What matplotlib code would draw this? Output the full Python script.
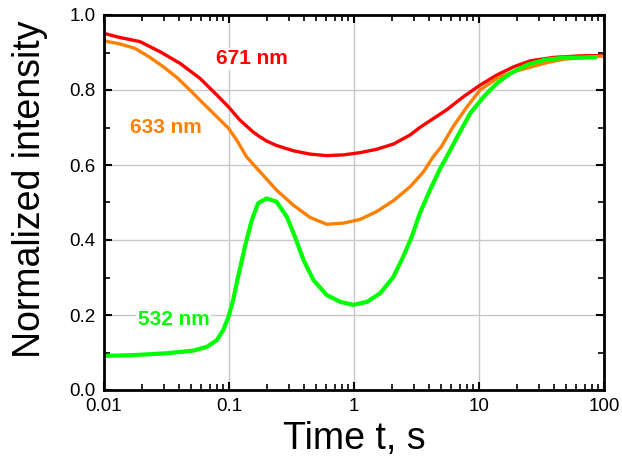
import numpy as np
import matplotlib.pyplot as plt
from matplotlib.ticker import LogLocator, FixedLocator, MultipleLocator, NullFormatter

plt.rcParams['font.family'] = ['Liberation Sans', 'DejaVu Sans']

# 671 nm (red)
t_671 = [0.01, 0.0134, 0.0194, 0.0281, 0.0406, 0.0586, 0.0798, 0.099, 0.122, 0.156,
         0.177, 0.2, 0.24, 0.327, 0.446, 0.606, 0.823, 1.12, 1.52, 2.07, 2.81, 3.36, 5.5,
         7.5, 10.2, 13.9, 19, 25.8, 39.8, 64.5, 100]
i_671 = [0.951, 0.940, 0.929, 0.902, 0.871, 0.831, 0.787, 0.755, 0.720, 0.688,
         0.675, 0.664, 0.652, 0.638, 0.629, 0.625, 0.627, 0.633, 0.642, 0.656, 0.680, 0.700, 0.747,
         0.782, 0.813, 0.840, 0.862, 0.878, 0.887, 0.891, 0.892]

# 633 nm (orange)
t_633 = [0.01, 0.0134, 0.0177, 0.0233, 0.0298, 0.0381, 0.0487, 0.0623, 0.0798, 0.099,
         0.115, 0.138, 0.177, 0.24, 0.327, 0.446, 0.606, 0.823, 1.12, 1.52, 2.07, 2.81,
         3.6, 4.3, 5.0, 6.2, 8.0, 10.2, 13.9, 19, 25.8, 35, 47.3, 72.5, 100]
i_633 = [0.931, 0.923, 0.911, 0.887, 0.862, 0.834, 0.800, 0.764, 0.729, 0.698,
         0.667, 0.622, 0.582, 0.533, 0.493, 0.460, 0.442, 0.445, 0.455, 0.476, 0.505, 0.542,
         0.582, 0.622, 0.649, 0.702, 0.755, 0.800, 0.831, 0.849, 0.861, 0.873, 0.882, 0.887, 0.891]

# 532 nm (green)
t_532 = [0.01, 0.0172, 0.0317, 0.0518, 0.0664, 0.08, 0.09, 0.099, 0.108, 0.115, 0.134,
         0.152, 0.171, 0.2, 0.24, 0.29, 0.337, 0.394, 0.474, 0.606, 0.776, 0.99, 1.27,
         1.62, 2.07, 2.47, 2.9, 3.36, 4.05, 4.9, 5.9, 6.7, 8.5, 10.9, 13.9, 17.8, 24.2,
         33, 47.3, 84.5]
i_532 = [0.091, 0.093, 0.098, 0.105, 0.115, 0.133, 0.160, 0.195, 0.240, 0.284, 0.382,
         0.453, 0.498, 0.511, 0.502, 0.462, 0.409, 0.347, 0.293, 0.253, 0.235, 0.227, 0.235,
         0.258, 0.302, 0.355, 0.409, 0.471, 0.533, 0.591, 0.640, 0.675, 0.738, 0.782, 0.818,
         0.844, 0.867, 0.880, 0.886, 0.887]

fig = plt.figure(figsize=(6.22, 4.66), dpi=100)
ax = fig.add_axes([104 / 622, 1 - 390 / 466, 500 / 622, 375 / 466])

ax.plot(t_671, i_671, color='#FF0000', lw=2.4)
ax.plot(t_633, i_633, color='#FF8000', lw=2.4)
ax.plot(t_532, i_532, color='#00FF00', lw=3.0)

ax.set_xscale('log')
ax.set_xlim(0.01, 100)
ax.set_ylim(0, 1.0)
ax.xaxis.set_major_locator(FixedLocator([0.01, 0.1, 1, 10, 100]))
ax.set_xticklabels(['0.01', '0.1', '1', '10', '100'])
ax.xaxis.set_minor_locator(LogLocator(base=10, subs=np.arange(2, 10)))
ax.xaxis.set_minor_formatter(NullFormatter())
ax.yaxis.set_major_locator(MultipleLocator(0.2))
ax.yaxis.set_minor_locator(MultipleLocator(0.1))
ax.yaxis.set_major_formatter(plt.FuncFormatter(lambda v, p: '%.1f' % v))

ax.grid(True, which='major', color='#C8C8C8', lw=1)
ax.tick_params(which='both', direction='in', top=True, right=True, labelsize=13.5, pad=6)
ax.tick_params(which='major', length=6, width=1.5)
ax.tick_params(which='minor', length=4, width=1.2)
for s in ax.spines.values():
    s.set_linewidth(2)

ax.set_xlabel('Time t, s', fontsize=27, labelpad=4)
ax.set_ylabel('Normalized intensity', fontsize=27)
ax.yaxis.set_label_coords(-0.112, 0.536)

box = dict(facecolor='white', edgecolor='none', pad=1)
ax.text(0.153, 0.883, '671 nm', color='#FF0000', fontsize=15, fontweight='bold',
        ha='center', va='center', bbox=box)
ax.text(0.0314, 0.701, '633 nm', color='#FF8000', fontsize=15, fontweight='bold',
        ha='center', va='center', bbox=box)
ax.text(0.036, 0.187, '532 nm', color='#00FF00', fontsize=15, fontweight='bold',
        ha='center', va='center', bbox=box)

fig.savefig('out.png', dpi=100)
